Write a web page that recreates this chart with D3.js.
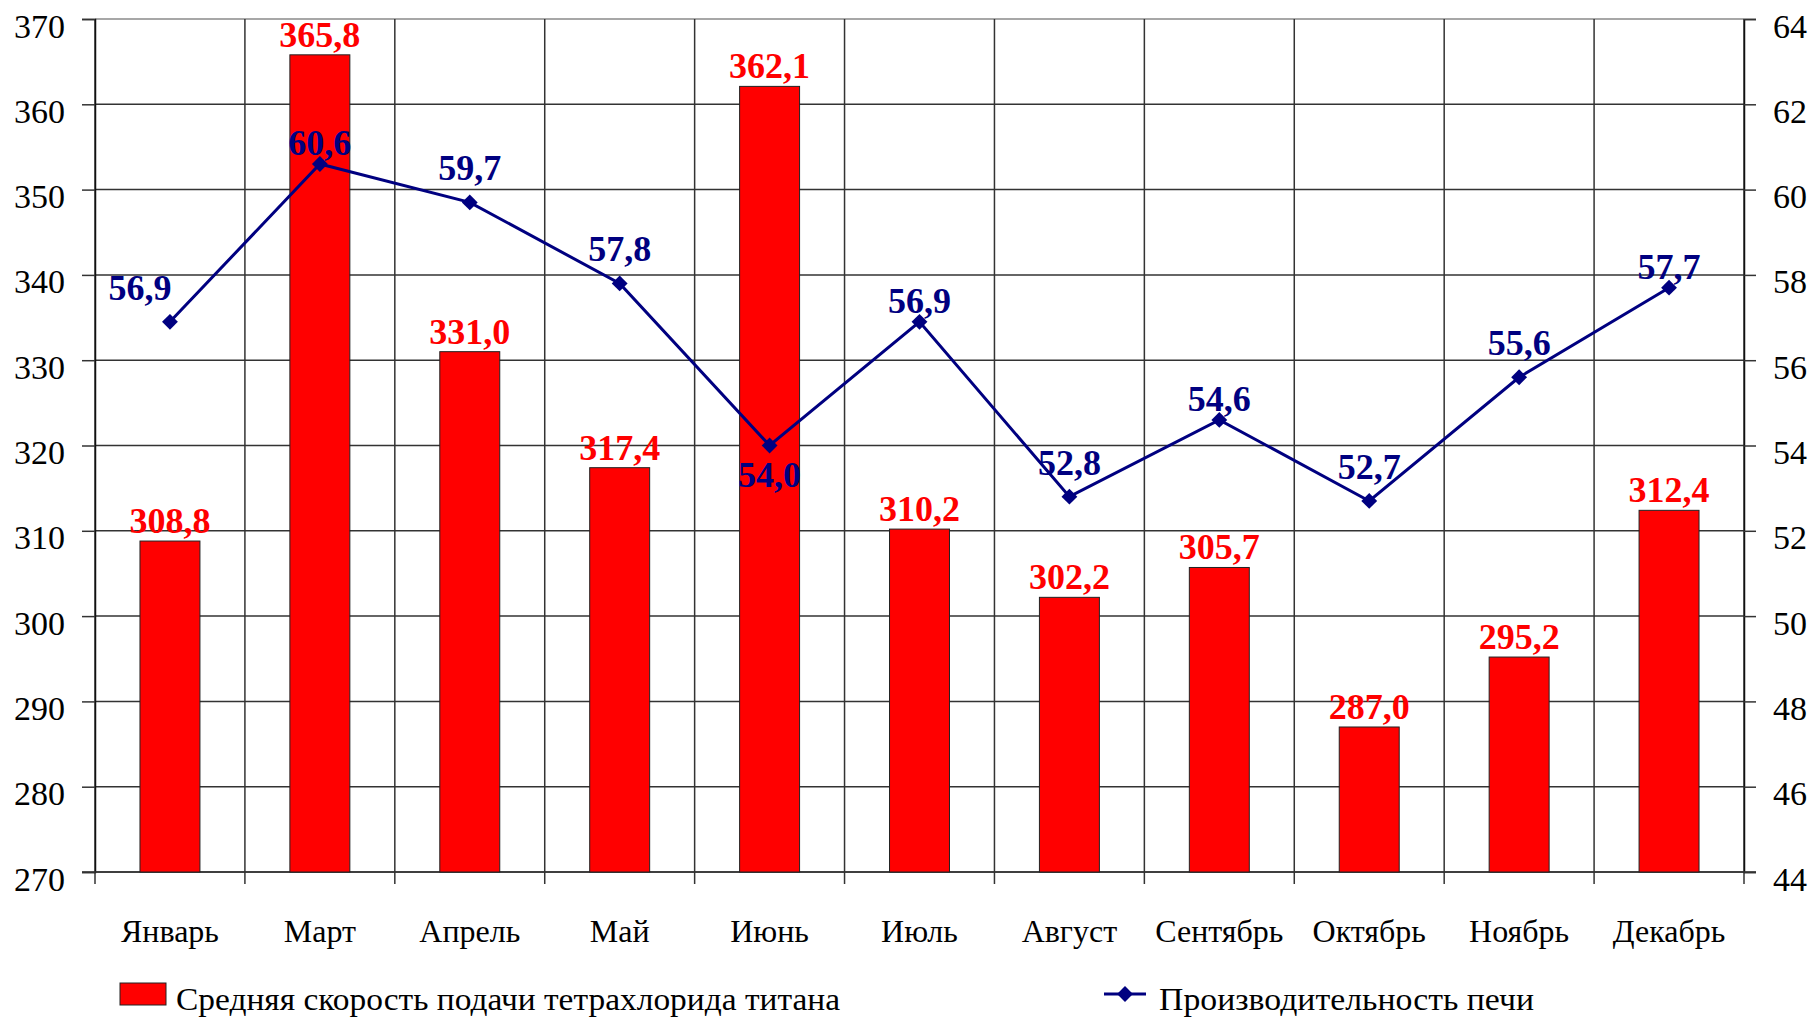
<!DOCTYPE html>
<html>
<head>
<meta charset="utf-8">
<script src="https://cdn.jsdelivr.net/npm/d3@7"></script>
<style>
  body { margin: 0; background: #fff; }
  svg { display: block; font-family: "Liberation Serif", "Times New Roman", serif; }
</style>
</head>
<body>
<div id="chart"></div>
<script>
// data
const months = ["Январь", "Март", "Апрель", "Май", "Июнь", "Июль", "Август", "Сентябрь", "Октябрь", "Ноябрь", "Декабрь"];
const feedRate = [308.8, 365.8, 331.0, 317.4, 362.1, 310.2, 302.2, 305.7, 287.0, 295.2, 312.4];
const furnaceOutput = [56.9, 60.6, 59.7, 57.8, 54.0, 56.9, 52.8, 54.6, 52.7, 55.6, 57.7];
const leftTicks = [270, 280, 290, 300, 310, 320, 330, 340, 350, 360, 370];
const rightTicks = [44, 46, 48, 50, 52, 54, 56, 58, 60, 62, 64];
const seriesNames = ["Средняя скорость подачи тетрахлорида титана", "Производительность печи"];

const W = 1812, H = 1020;
const mLeft = 95, mRight = 1744, mTop = 19, mBottom = 872;
const fmt = v => v.toFixed(1).replace(".", ",");

const svg = d3.select("#chart").append("svg")
  .attr("width", W)
  .attr("height", H);

const x = d3.scaleBand()
  .domain(months)
  .range([mLeft, mRight])
  .paddingInner(0.6)
  .paddingOuter(0.3);

const yL = d3.scaleLinear().domain([270, 370]).range([mBottom, mTop]);
const yR = d3.scaleLinear().domain([44, 64]).range([mBottom, mTop]);

const step = x.step();
const bounds = months.map(m => x(m) - step * 0.3).concat([mRight]);

// horizontal grid
svg.append("g").selectAll("line")
  .data(leftTicks)
  .enter().append("line")
  .attr("x1", mLeft).attr("x2", mRight)
  .attr("y1", d => yL(d)).attr("y2", d => yL(d))
  .attr("stroke", d => d === 370 ? "#8a8a8a" : "#333")
  .attr("stroke-width", 1.5);

// vertical grid + ticks below axis
svg.append("g").selectAll("line")
  .data(bounds)
  .enter().append("line")
  .attr("x1", d => d).attr("x2", d => d)
  .attr("y1", mTop).attr("y2", mBottom + 12)
  .attr("stroke", "#333")
  .attr("stroke-width", 1.5);

// left axis
const axL = svg.append("g")
  .attr("transform", `translate(${mLeft},0)`)
  .call(d3.axisLeft(yL).tickValues(leftTicks).tickSize(13).tickFormat(d3.format("d")));
axL.select(".domain").attr("stroke", "#111").attr("stroke-width", 1.5);
axL.selectAll(".tick line").attr("stroke", "#333").attr("stroke-width", 1.5);
axL.selectAll(".tick text")
  .attr("x", -30).attr("dy", 18)
  .attr("font-family", "Liberation Serif")
  .attr("font-size", 34).attr("fill", "#000");

// right axis
const axR = svg.append("g")
  .attr("transform", `translate(${mRight},0)`)
  .call(d3.axisRight(yR).tickValues(rightTicks).tickSize(12).tickFormat(d3.format("d")));
axR.select(".domain").attr("stroke", "#111").attr("stroke-width", 1.5);
axR.selectAll(".tick line").attr("stroke", "#333").attr("stroke-width", 1.5);
axR.selectAll(".tick text")
  .attr("x", 29).attr("dy", 18)
  .attr("font-family", "Liberation Serif")
  .attr("font-size", 34).attr("fill", "#000");

// bottom line
svg.append("line")
  .attr("x1", mLeft - 13).attr("x2", mRight + 12)
  .attr("y1", mBottom).attr("y2", mBottom)
  .attr("stroke", "#333").attr("stroke-width", 1.5);

// category labels
svg.append("g").selectAll("text")
  .data(months)
  .enter().append("text")
  .attr("x", d => x(d) + x.bandwidth() / 2)
  .attr("y", 942)
  .attr("text-anchor", "middle")
  .attr("font-size", 32)
  .text(d => d);

// bars
svg.append("g").selectAll("rect")
  .data(feedRate)
  .enter().append("rect")
  .attr("x", (d, i) => x(months[i]))
  .attr("y", d => yL(d))
  .attr("width", x.bandwidth())
  .attr("height", d => mBottom - yL(d))
  .attr("fill", "#ff0000")
  .attr("stroke", "#222")
  .attr("stroke-width", 1);

svg.append("g").selectAll("text")
  .data(feedRate)
  .enter().append("text")
  .attr("x", (d, i) => x(months[i]) + x.bandwidth() / 2)
  .attr("y", d => yL(d) - 8)
  .attr("text-anchor", "middle")
  .attr("font-size", 36)
  .attr("font-weight", "bold")
  .attr("fill", "#ff0000")
  .text(d => fmt(d));

// line series
const cx = (d, i) => x(months[i]) + x.bandwidth() / 2;
const line = d3.line().x(cx).y(d => yR(d));
svg.append("path")
  .datum(furnaceOutput)
  .attr("d", line)
  .attr("fill", "none")
  .attr("stroke", "#000080")
  .attr("stroke-width", 3);

const diamond = d3.symbol().type(d3.symbolDiamond2).size(160);
svg.append("g").selectAll("path")
  .data(furnaceOutput)
  .enter().append("path")
  .attr("d", diamond)
  .attr("transform", (d, i) => `translate(${cx(d, i)},${yR(d)})`)
  .attr("fill", "#000080");

// label placement: peaks sit closer to the marker, the June dip goes below
const n = furnaceOutput.length;
const isPeak = i => i > 0 &&
  furnaceOutput[i] > furnaceOutput[i - 1] &&
  (i === n - 1 || furnaceOutput[i] > furnaceOutput[i + 1]);
const minIdx = furnaceOutput.indexOf(d3.min(furnaceOutput.slice(1, 6)));
svg.append("g").selectAll("text")
  .data(furnaceOutput)
  .enter().append("text")
  .attr("x", (d, i) => i === 0 ? cx(d, i) - 30 : cx(d, i))
  .attr("y", (d, i) => i === minIdx ? yR(d) + 41 : yR(d) - (isPeak(i) ? 9 : 22))
  .attr("text-anchor", "middle")
  .attr("font-size", 36)
  .attr("font-weight", "bold")
  .attr("fill", "#000080")
  .text(d => fmt(d));

// legend
const lg = svg.append("g");
lg.append("rect")
  .attr("x", 120).attr("y", 983).attr("width", 46).attr("height", 22)
  .attr("fill", "#ff0000").attr("stroke", "#222").attr("stroke-width", 1);
lg.append("text")
  .attr("x", 176).attr("y", 1010)
  .attr("font-size", 32)
  .attr("textLength", 664).attr("lengthAdjust", "spacingAndGlyphs")
  .text(seriesNames[0]);
lg.append("line")
  .attr("x1", 1104).attr("x2", 1146).attr("y1", 994).attr("y2", 994)
  .attr("stroke", "#000080").attr("stroke-width", 3);
lg.append("path")
  .attr("d", diamond)
  .attr("transform", "translate(1125,994)")
  .attr("fill", "#000080");
lg.append("text")
  .attr("x", 1159).attr("y", 1010)
  .attr("font-size", 32)
  .attr("textLength", 375).attr("lengthAdjust", "spacingAndGlyphs")
  .text(seriesNames[1]);
</script>
</body>
</html>
